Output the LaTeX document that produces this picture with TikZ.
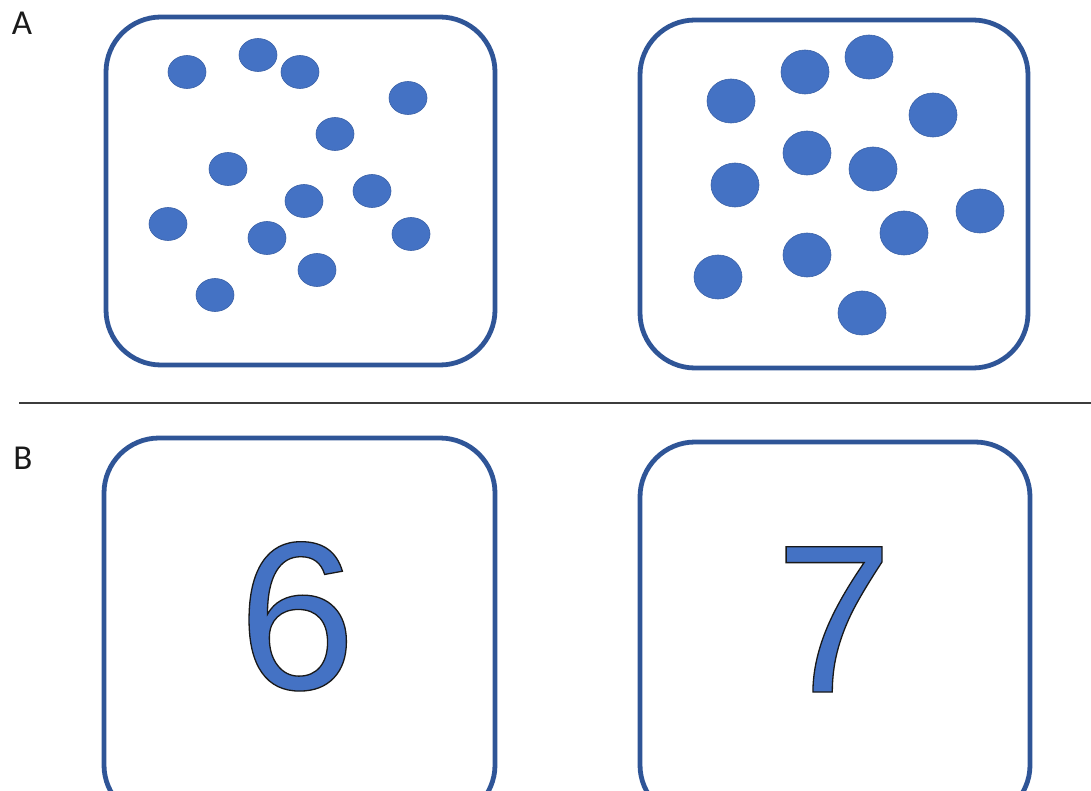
\documentclass[tikz,border=0pt]{standalone}
\usepackage{fontspec}
\setmainfont{Carlito}
\newfontfamily\numfont{Liberation Sans}
\usetikzlibrary{positioning}

\definecolor{dotblue}{HTML}{4472C4}
\definecolor{frameblue}{HTML}{2F5597}
\definecolor{inkgrey}{HTML}{1A1A1A}
% filled glyph with a thin dark rim
\newcommand{\rimtext}[1]{\special{pdf:literal direct 2 Tr 1.3 w 0.1 0.1 0.1 RG}#1\special{pdf:literal direct 0 Tr}}

\begin{document}
\begin{tikzpicture}[x=1pt, y=-1pt,
  card/.style={draw=frameblue, line width=4.8pt, rounded corners=55pt},
  dot/.style={fill=dotblue, draw=dotblue!85!black, line width=0.6pt},
  panel/.style={text=inkgrey, font=\fontsize{35}{35}\selectfont, anchor=base},
  numeral/.style={text=dotblue, font=\numfont\fontsize{211}{211}\selectfont, anchor=base}]
  \useasboundingbox (0,0) rectangle (1091,791);

  % part A: dot sets
  \draw[card] (106,17) rectangle (495,365);
  \draw[card] (640,20) rectangle (1028,368);
  \foreach \x/\y in {187/72, 258/55, 300/72, 408/98, 335/134, 228/169, 304/201,
                     372/191, 168/224, 267/238, 411/234, 317/270, 215/295}
    \draw[dot] (\x,\y) ellipse [x radius=19pt, y radius=16.5pt];
  \foreach \x/\y in {731/101, 805/72, 869/57, 933/115, 807/153, 873/169, 735/185,
                     980/211, 904/233, 807/255, 718/277, 862/313}
    \draw[dot] (\x,\y) ellipse [x radius=24pt, y radius=22pt];

  % divider
  \coordinate (rulestart) at (19,403);
  \coordinate (ruleend) at (1091,403);
  \draw[inkgrey!85, line width=1.5pt] (rulestart) -- (ruleend);

  % part B: numerals
  \draw[card] (104,438) rectangle (495,820);
  \draw[card] (640,442) rectangle (1030,820);
  \node[numeral] (six) at (297,689) {\rimtext{6}};
  \node[numeral] (seven) at (834,692) {\rimtext{7}};

  \node[panel] (labA) at (22,35) {A};
  \node[panel] (labB) at (23,469) {B};
\end{tikzpicture}
\end{document}
